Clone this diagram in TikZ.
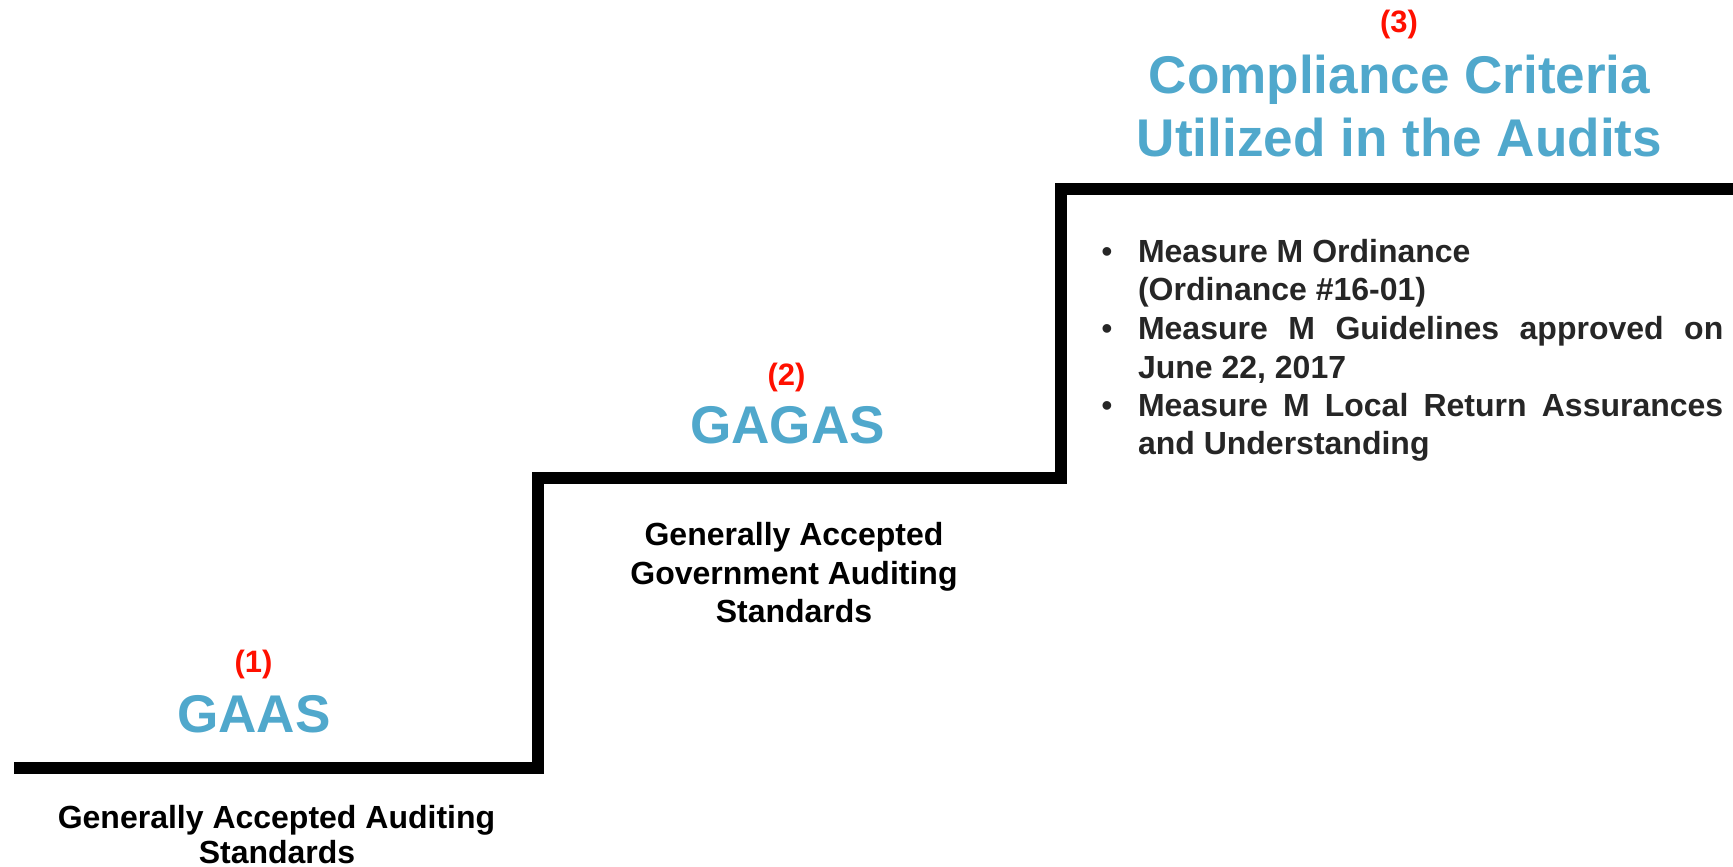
\documentclass[tikz,border=0pt]{standalone}
\usepackage{fontspec}
\setmainfont{Liberation Sans}
\definecolor{titleblue}{RGB}{80,168,204}
\definecolor{numred}{RGB}{255,16,0}
\definecolor{bodygray}{RGB}{38,38,38}
\begin{document}
\begin{tikzpicture}[x=0.01cm, y=-0.01cm,
  every node/.style={inner sep=0pt, outer sep=0pt},
  stair/.style={line width=0.12cm, line join=miter, line cap=butt},
  numlabel/.style={anchor=base, text=numred, font=\fontsize{8.8}{10}\selectfont\bfseries},
  bigtitle/.style={anchor=base, text=titleblue, font=\fontsize{15.1}{18}\selectfont\bfseries},
  desc/.style={anchor=base, text=black, font=\fontsize{9.1}{11}\selectfont\bfseries},
  itemline/.style={anchor=base west, text=bodygray, font=\fontsize{9.1}{11}\selectfont\bfseries},
  bulletdot/.style={anchor=base, text=bodygray, font=\fontsize{9.1}{11}\selectfont}]
\useasboundingbox (0,0) rectangle (1733,867);

% staircase
\coordinate (s0) at (14,768);
\coordinate (s1) at (538,768);
\coordinate (s2) at (538,478);
\coordinate (s3) at (1060.5,478);
\coordinate (s4) at (1060.5,189);
\coordinate (s5) at (1733,189);
\draw[stair] (s0) -- (s1) -- (s2) -- (s3) -- (s4) -- (s5);

% step 1
\node[numlabel] (n1) at (253.5,672) {(1)};
\node[bigtitle] (t1) at (254,732) {GAAS};
\node[desc] (d1a) at (276.5,828) {Generally Accepted Auditing};
\node[desc] (d1b) at (277,863) {Standards};

% step 2
\node[numlabel] (n2) at (786.5,385.5) {(2)};
\node[bigtitle] (t2) at (787.5,443) {GAGAS};
\node[desc] (d2a) at (794,545.5) {Generally Accepted};
\node[desc] (d2b) at (794,584) {Government Auditing};
\node[desc] (d2c) at (794,622) {Standards};

% step 3
\node[numlabel] (n3) at (1399,33) {(3)};
\node[bigtitle] (t3a) at (1399.5,94) {Compliance Criteria};
\node[bigtitle] (t3b) at (1399.5,157) {Utilized in the Audits};

\node[bulletdot] (p1) at (1107,262) {•};
\node[itemline] (i1a) at (1138,262) {Measure M Ordinance};
\node[itemline] (i1b) at (1138,300.5) {(Ordinance \#16-01)};
\node[bulletdot] (p2) at (1107,339) {•};
\node[itemline] (i2a) at (1138,339) {\makebox[5.85cm][s]{Measure M Guidelines approved on}};
\node[itemline] (i2b) at (1138,378) {June 22, 2017};
\node[bulletdot] (p3) at (1107,416.5) {•};
\node[itemline] (i3a) at (1138,416.5) {\makebox[5.85cm][s]{Measure M Local Return Assurances}};
\node[itemline] (i3b) at (1138,454) {and Understanding};
\end{tikzpicture}
\end{document}
